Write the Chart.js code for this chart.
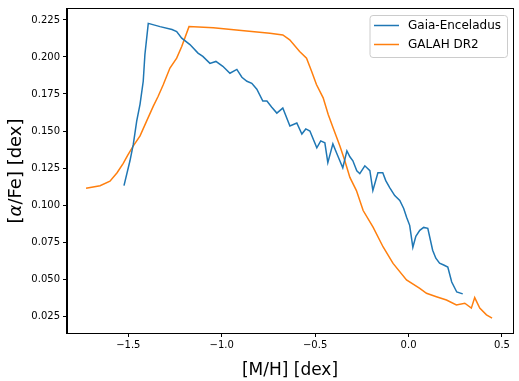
<!DOCTYPE html>
<html>
<head>
<meta charset="utf-8">
<script src="https://cdn.jsdelivr.net/npm/chart.js@4"></script>
<style>
  html, body { margin: 0; padding: 0; background: #fff; }
  #wrap { width: 519px; height: 381px; }
</style>
</head>
<body>
<div id="wrap"><canvas id="alphaChart" width="519" height="381"></canvas></div>
<script>
// Gaia-Enceladus: [M/H] and [alpha/Fe]
const gaiaMH = [-1.523, -1.491, -1.473, -1.455, -1.437, -1.420, -1.411, -1.393, -1.330, -1.266,
  -1.241, -1.214, -1.170, -1.127, -1.101, -1.063, -1.031, -0.994,
  -0.956, -0.919, -0.892, -0.865, -0.839, -0.812, -0.780, -0.758, -0.732, -0.705,
  -0.673, -0.635, -0.598, -0.571, -0.550, -0.528, -0.491, -0.470, -0.448, -0.432,
  -0.405, -0.379, -0.352, -0.330, -0.314, -0.298, -0.277, -0.261, -0.234, -0.207,
  -0.191, -0.164, -0.138, -0.122, -0.101, -0.074, -0.047, -0.026, -0.010, 0.006,
  0.023, 0.039, 0.060, 0.081, 0.103, 0.129, 0.146, 0.166, 0.188, 0.210,
  0.231, 0.258, 0.290];
const gaiaAlpha = [0.1131, 0.1299, 0.1411, 0.1567, 0.1682, 0.1836, 0.2017, 0.2227, 0.2205, 0.2185,
  0.2171, 0.2127, 0.2084, 0.2026, 0.2004, 0.1957, 0.1970, 0.1937,
  0.1890, 0.1916, 0.1863, 0.1836, 0.1822, 0.1782, 0.1702, 0.1702, 0.1661, 0.1621,
  0.1655, 0.1534, 0.1554, 0.1480, 0.1514, 0.1500, 0.1386, 0.1433, 0.1420, 0.1286,
  0.1413, 0.1333, 0.1252, 0.1366, 0.1326, 0.1299, 0.1232, 0.1212, 0.1265, 0.1232,
  0.1098, 0.1218, 0.1218, 0.1165, 0.1118, 0.1064, 0.1031, 0.0977, 0.0916, 0.0863,
  0.0715, 0.0789, 0.0829, 0.0849, 0.0843, 0.0695, 0.0641, 0.0608, 0.0595, 0.0581,
  0.0480, 0.0413, 0.0400];

// GALAH DR2
const galahMH = [-1.726, -1.651, -1.598, -1.560, -1.527, -1.502, -1.473, -1.437, -1.402, -1.366,
  -1.340, -1.313, -1.277, -1.241, -1.214, -1.175, -1.045, -0.867, -0.742, -0.673,
  -0.636, -0.583, -0.546, -0.519, -0.493, -0.457, -0.430, -0.404, -0.368, -0.341,
  -0.314, -0.279, -0.243, -0.190, -0.136, -0.083, -0.011, 0.060, 0.096, 0.149,
  0.203, 0.256, 0.301, 0.336, 0.354, 0.381, 0.417, 0.447];
const galahAlpha = [0.1113, 0.1131, 0.1161, 0.1218, 0.1282, 0.1339, 0.1400, 0.1467, 0.1567, 0.1668,
  0.1735, 0.1812, 0.1925, 0.1992, 0.2071, 0.2205, 0.2198, 0.2176, 0.2160, 0.2149,
  0.2116, 0.2037, 0.1992, 0.1903, 0.1814, 0.1724, 0.1612, 0.1522, 0.1400, 0.1299,
  0.1187, 0.1098, 0.0963, 0.0851, 0.0717, 0.0606, 0.0494, 0.0438, 0.0404, 0.0381,
  0.0359, 0.0326, 0.0337, 0.0304, 0.0375, 0.0304, 0.0259, 0.0237];

const xTicks = [-1.5, -1.0, -0.5, 0.0, 0.5];
const yTicks = [0.025, 0.050, 0.075, 0.100, 0.125, 0.150, 0.175, 0.200, 0.225];

const seriesNames = ['Gaia-Enceladus', 'GALAH DR2'];
const seriesColors = ['#1f77b4', '#ff7f0e'];

function toPoints(xs, ys) {
  return xs.map((x, i) => ({ x: x, y: ys[i] }));
}

// frame on all four sides, like matplotlib spines
const framePlugin = {
  id: 'frame',
  afterDatasetsDraw(chart) {
    const a = chart.chartArea;
    const c = chart.ctx;
    c.save();
    c.strokeStyle = '#000';
    c.lineWidth = 1;
    c.strokeRect(Math.round(a.left) - 0.5, Math.round(a.top) - 0.5,
      Math.round(a.right - a.left) + 1, Math.round(a.bottom - a.top) + 1);
    c.restore();
  }
};

// legend box drawn inside the plot, upper right
const legendPlugin = {
  id: 'innerLegend',
  afterDraw(chart) {
    const a = chart.chartArea;
    const c = chart.ctx;
    c.save();
    c.font = '12px "DejaVu Sans"';
    const textW = Math.max(...seriesNames.map(n => c.measureText(n).width));
    const w = 4.5 + 25 + 9 + textW + 6;
    const h = 42;
    const x0 = a.right - 6 - w;
    const y0 = a.top + 6;
    c.fillStyle = 'rgba(255,255,255,0.8)';
    c.strokeStyle = '#cccccc';
    c.lineWidth = 1;
    c.beginPath();
    c.roundRect(x0 + 0.5, y0 + 0.5, w, h, 3);
    c.fill();
    c.stroke();
    seriesNames.forEach((name, i) => {
      const cy = y0 + 10.5 + i * 19;
      c.strokeStyle = seriesColors[i];
      c.lineWidth = 1.5;
      c.beginPath();
      c.moveTo(x0 + 4.5, cy);
      c.lineTo(x0 + 29.5, cy);
      c.stroke();
      c.fillStyle = '#000';
      c.textBaseline = 'middle';
      c.fillText(name, x0 + 38.5, cy + 0.5);
    });
    c.restore();
  }
};

// rotated y title with an italic alpha
const yTitlePlugin = {
  id: 'yTitle',
  afterDraw(chart) {
    const a = chart.chartArea;
    const c = chart.ctx;
    const parts = [
      { t: '[', f: '18px "DejaVu Sans"' },
      { t: 'α', f: 'italic 18px "DejaVu Sans"' },
      { t: '/Fe] [dex]', f: '18px "DejaVu Sans"' }
    ];
    c.save();
    let total = 0;
    parts.forEach(p => { c.font = p.f; p.w = c.measureText(p.t).width; total += p.w; });
    c.translate(16, (a.top + a.bottom) / 2);
    c.rotate(-Math.PI / 2);
    c.fillStyle = '#000';
    c.textBaseline = 'middle';
    let x = -total / 2;
    parts.forEach(p => { c.font = p.f; c.fillText(p.t, x, 0); x += p.w; });
    c.restore();
  }
};

const ctx = document.getElementById('alphaChart').getContext('2d');

new Chart(ctx, {
  type: 'line',
  data: {
    datasets: [
      {
        label: seriesNames[0],
        data: toPoints(gaiaMH, gaiaAlpha),
        borderColor: seriesColors[0],
        borderWidth: 1.5,
        pointRadius: 0,
        tension: 0,
        fill: false
      },
      {
        label: seriesNames[1],
        data: toPoints(galahMH, galahAlpha),
        borderColor: seriesColors[1],
        borderWidth: 1.5,
        pointRadius: 0,
        tension: 0,
        fill: false
      }
    ]
  },
  options: {
    responsive: false,
    animation: false,
    layout: { padding: { top: 7, right: 6, left: 0, bottom: 0 } },
    plugins: {
      legend: { display: false },
      tooltip: { enabled: false }
    },
    scales: {
      x: {
        type: 'linear',
        min: -1.828,
        max: 0.559,
        afterBuildTicks: s => { s.ticks = xTicks.map(v => ({ value: v })); },
        afterFit: s => { s.height = 48; },
        grid: { display: true, drawOnChartArea: false, drawTicks: true, tickLength: 4, color: '#000' },
        border: { display: true, color: '#000' },
        ticks: {
          color: '#000',
          font: { family: 'DejaVu Sans', size: 10 },
          padding: 2,
          maxRotation: 0,
          callback: v => v.toFixed(1).replace('-', '\u2212')
        },
        title: {
          display: true,
          text: '[M/H] [dex]',
          color: '#000',
          font: { family: 'DejaVu Sans', size: 17 },
          padding: { top: 0, bottom: 0 }
        }
      },
      y: {
        type: 'linear',
        min: 0.0136,
        max: 0.2324,
        afterBuildTicks: s => { s.ticks = yTicks.map(v => ({ value: v })); },
        afterFit: s => { s.width = 67; },
        grid: { display: true, drawOnChartArea: false, drawTicks: true, tickLength: 4, color: '#000' },
        border: { display: true, color: '#000' },
        ticks: {
          color: '#000',
          font: { family: 'DejaVu Sans', size: 10 },
          padding: 3,
          callback: v => v.toFixed(3)
        }
      }
    }
  },
  plugins: [framePlugin, legendPlugin, yTitlePlugin]
});
</script>
</body>
</html>
